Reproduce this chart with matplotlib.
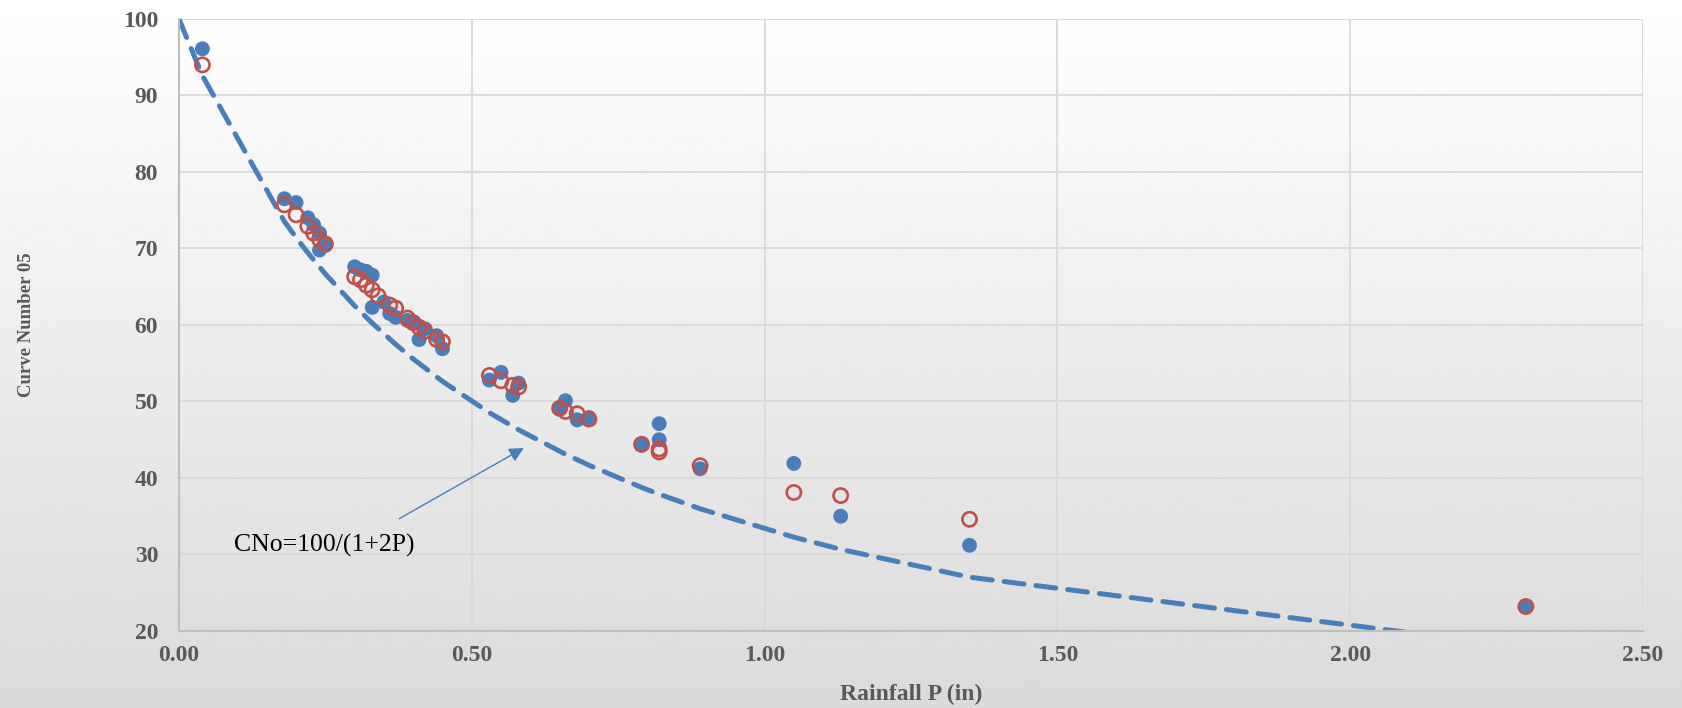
import matplotlib
matplotlib.use("Agg")
import matplotlib.pyplot as plt
import numpy as np

# observed curve numbers, blue = filled, red = open
p_blue = [0.04, 0.18, 0.20, 0.22, 0.23, 0.24, 0.24, 0.25, 0.30, 0.31, 0.32, 0.33,
          0.33, 0.35, 0.36, 0.37, 0.39, 0.40, 0.41, 0.42, 0.44, 0.45, 0.53, 0.55,
          0.57, 0.58, 0.66, 0.65, 0.68, 0.70, 0.79, 0.82, 0.82, 0.89, 1.05, 1.13,
          1.35, 2.30]
cn_blue = [96.1, 76.5, 76.0, 74.0, 73.1, 72.0, 69.8, 70.4, 67.6, 67.2, 67.0, 66.5,
           62.3, 63.0, 61.5, 61.0, 60.6, 60.3, 58.1, 59.5, 58.6, 56.9, 52.8, 53.8,
           50.8, 52.4, 50.1, 49.1, 47.6, 47.9, 44.3, 47.1, 45.0, 41.2, 41.9, 35.0,
           31.2, 23.2]

p_red = [0.04, 0.18, 0.20, 0.22, 0.23, 0.24, 0.25, 0.30, 0.31, 0.32, 0.33, 0.34,
         0.36, 0.37, 0.39, 0.40, 0.41, 0.42, 0.44, 0.45, 0.53, 0.55, 0.57, 0.58,
         0.65, 0.66, 0.68, 0.70, 0.79, 0.82, 0.82, 0.89, 1.05, 1.13, 1.35, 2.30]
cn_red = [94.0, 75.7, 74.4, 72.9, 72.0, 71.2, 70.6, 66.3, 65.9, 65.2, 64.6, 63.8,
          62.6, 62.2, 60.9, 60.3, 59.7, 59.2, 58.1, 57.8, 53.4, 52.7, 52.1, 51.9,
          49.1, 48.7, 48.4, 47.7, 44.4, 43.8, 43.4, 41.6, 38.1, 37.7, 34.6, 23.2]

# CNo = 100/(1+2P) values at the rainfall depths
p_curve = [0.00, 0.04, 0.18, 0.20, 0.22, 0.25, 0.30, 0.33, 0.37, 0.40, 0.45, 0.53,
           0.58, 0.66, 0.70, 0.79, 0.82, 0.89, 1.05, 1.13, 1.35, 2.30]
cn_curve = [100.0, 92.59, 73.53, 71.43, 69.44, 66.67, 62.50, 60.24, 57.47, 55.56,
            52.63, 48.54, 46.30, 43.10, 41.67, 38.76, 37.88, 35.97, 32.26, 30.67,
            27.03, 17.86]

x_ticks = [0.0, 0.5, 1.0, 1.5, 2.0, 2.5]
y_ticks = [20, 30, 40, 50, 60, 70, 80, 90, 100]

blue = "#4a7ebb"
red = "#c0504d"
gray = "#595959"
serif = ["Liberation Serif", "DejaVu Serif"]

fig = plt.figure(figsize=(16.82, 7.08), dpi=100)

# gradient background
bg = fig.add_axes([0, 0, 1, 1], zorder=-10)
grad = np.linspace(1.0, 0.855, 256).reshape(-1, 1)
bg.imshow(grad, aspect="auto", cmap="gray", vmin=0, vmax=1, extent=[0, 1, 0, 1])
bg.axis("off")

ax = fig.add_axes([0.1064, 0.1088, 0.8704, 0.8644])
ax.set_facecolor("none")

ax.plot(p_curve, cn_curve, color=blue, lw=3.6, dashes=(4, 2.4),
        solid_capstyle="round", dash_capstyle="round", zorder=2)
ax.scatter(p_blue, cn_blue, s=115, color=blue, edgecolors="none", zorder=3)
ax.scatter(p_red, cn_red, s=105, facecolors="none", edgecolors=red,
           linewidths=1.9, zorder=4)

ax.set_xlim(0, 2.5)
ax.set_ylim(20, 100)
ax.set_xticks(x_ticks)
ax.set_yticks(y_ticks)
ax.set_xticklabels(["%.2f" % v for v in x_ticks])
ax.grid(True, color="#d9d9d9", lw=1.3, zorder=0)
ax.set_axisbelow(True)

for s in ["top", "right"]:
    ax.spines[s].set_visible(False)
for s in ["left", "bottom"]:
    ax.spines[s].set_color("#bfbfbf")
    ax.spines[s].set_linewidth(1.5)

ax.tick_params(axis="both", length=0, labelsize=17, labelcolor=gray)
ax.tick_params(axis="y", pad=15)
ax.tick_params(axis="x", pad=10)
for lab in ax.get_xticklabels() + ax.get_yticklabels():
    lab.set_family(serif)
    lab.set_fontweight("bold")

ax.set_xlabel("Rainfall P (in)", fontsize=17, fontweight="bold", color=gray,
              family=serif, labelpad=13)
ax.set_ylabel("Curve Number 05", fontsize=13.5, fontweight="bold", color=gray,
              family=serif)
ax.yaxis.set_label_coords(-0.098, 0.5)

ax.annotate("", xy=(0.593, 44.1), xytext=(0.372, 34.5),
            arrowprops=dict(arrowstyle="-|>", color=blue, lw=1.0,
                            mutation_scale=22))
ax.text(0.094, 31.2, "CNo=100/(1+2P)", fontsize=18.5, family=serif,
        color="black", va="center", ha="left")

fig.savefig("out.png", dpi=100)
